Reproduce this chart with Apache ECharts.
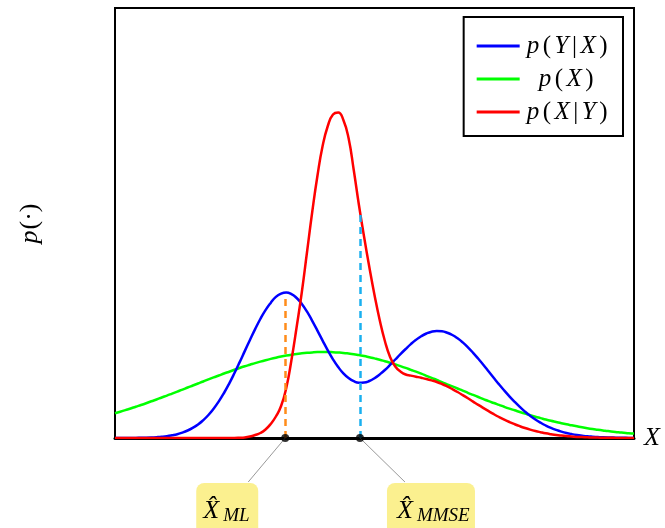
<!DOCTYPE html>
<html><head><meta charset="utf-8">
<script src="https://cdn.jsdelivr.net/npm/echarts@6/dist/echarts.min.js"></script>
<style>html,body{margin:0;padding:0;background:#fff}#c{width:665px;height:528px}</style>
</head><body><div id="c"></div>
<script>
const xValues = [0,1,2,3,4,5,6,7,8,9,10,11,12,13,14,15,16,17,18,19,20,21,22,23,24,25,26,27,28,29,30,31,32,33,34,35,36,37,38,39,40,41,42,43,44,45,46,47,48,49,50,51,52,53,54,55,56,57,58,59,60,61,62,63,64,65,66,67,68,69,70,71,72,73,74,75,76,77,78,79,80,81,82,83,84,85,86,87,88,89,90,91,92,93,94,95,96,97,98,99,100];
const pYgivenX = [0.0,0.0,0.1,0.1,0.1,0.2,0.3,0.5,0.8,1.2,1.8,2.7,3.8,5.4,7.5,10.2,13.5,17.8,23.0,29.3,36.6,45.0,54.4,64.7,75.6,86.9,98.0,108.9,119.0,127.9,135.1,141.1,144.4,145.5,143.9,140.0,134.1,126.3,117.2,107.4,97.4,87.7,78.7,71.0,64.6,59.9,56.8,55.3,55.5,57.0,59.8,63.6,68.0,73.1,78.5,83.9,89.0,93.9,98.2,101.8,104.5,106.3,107.0,106.7,105.3,103.0,99.7,95.6,90.7,85.2,79.2,73.0,66.5,60.0,53.6,47.5,41.7,36.2,31.1,26.4,22.2,18.5,15.3,12.5,10.1,8.1,6.4,5.0,3.9,3.0,2.3,1.7,1.3,1.0,0.7,0.5,0.4,0.3,0.2,0.1,0.1];
const pX = [24.7,26.3,27.9,29.5,31.3,33.0,34.8,36.7,38.5,40.5,42.4,44.4,46.4,48.4,50.5,52.5,54.5,56.5,58.6,60.6,62.5,64.5,66.3,68.2,70.0,71.7,73.3,74.9,76.4,77.8,79.1,80.3,81.4,82.4,83.3,84.1,84.7,85.2,85.6,85.9,86.0,86.0,85.8,85.5,85.1,84.5,83.8,82.9,82.0,80.8,79.6,78.3,76.8,75.3,73.6,71.9,70.1,68.2,66.3,64.3,62.2,60.1,58.0,55.8,53.7,51.6,49.5,47.4,45.2,43.1,41.0,38.9,36.8,35.0,33.1,31.2,29.4,27.7,26.0,24.4,22.8,21.3,19.9,18.5,17.2,16.0,14.8,13.7,12.7,11.7,10.7,9.8,9.0,8.3,7.6,6.9,6.3,5.7,5.2,4.7,4.4];
const pXgivenY = [0,0,0,0,0,0,0,0,0,0,0,0,0,0,0,0,0,0,0,0,0,0,0.05,0.1,0.3,0.6,1.5,3,5,8.5,14,21.5,32,50,78,111,146,186,226,262,292,312,323.5,325.5,318,300,268,233,201,171,143,118,97,81,71.5,66.5,63.5,62.4,61.3,60.2,59.0,57.6,56.0,54.0,51.6,48.9,46.0,42.9,39.7,36.4,33.1,29.9,26.8,23.8,21.0,18.4,16.0,13.8,11.8,10.0,8.4,7.0,5.8,4.7,3.8,3.0,2.4,1.9,1.5,1.1,0.9,0.7,0.5,0.4,0.3,0.2,0.15,0.1,0.05,0,0];
const seriesNames = ['p(Y|X)','p(X)','p(X|Y)'];
const estimateNames = ['ML','MMSE'];
const estimateX = [32.8, 47.2];
const estimateTop = [144, 226];

const FONT = 'Liberation Serif';
const richBase = {
  i:{fontFamily:FONT,fontStyle:'italic',fontSize:25,color:'#000',padding:[0,2,0,2]},
  u:{fontFamily:FONT,fontSize:25,color:'#000',padding:[0,1.5,0,1.5]},
  ic:{fontFamily:FONT,fontStyle:'italic',fontSize:25,color:'#000',padding:[0,2,0,14]}
};
const axisRich = {
  i:{fontFamily:FONT,fontStyle:'italic',fontSize:26,color:'#000'},
  u:{fontFamily:FONT,fontSize:26,color:'#000',padding:[0,1,0,1]}
};
const legendRich = {
  'p(Y|X)':'{i|p}{u|(}{i|Y}{u||}{i|X}{u|)}',
  'p(X)':'{ic|p}{u|(}{i|X}{u|)}',
  'p(X|Y)':'{i|p}{u|(}{i|X}{u||}{i|Y}{u|)}'
};
function pairs(ys){return xValues.map((x,i)=>[x,ys[i]]);}

const chart = echarts.init(document.getElementById('c'),null,{renderer:'canvas'});
const option = {
  animation:false,
  backgroundColor:'#fff',
  grid:{left:115,top:8,right:31,bottom:90,show:true,borderColor:'#000',borderWidth:2,backgroundColor:'transparent'},
  xAxis:{type:'value',min:0,max:100,
    axisLine:{show:true,lineStyle:{color:'#000',width:3}},axisTick:{show:false},axisLabel:{show:false},splitLine:{show:false},
    name:'{i|X}',nameLocation:'end',nameGap:10,nameTextStyle:{rich:axisRich}},
  yAxis:{type:'value',min:0,max:430,
    axisLine:{show:false},axisTick:{show:false},axisLabel:{show:false},splitLine:{show:false},
    name:'{i|p}{u|(·)}',nameLocation:'middle',nameGap:72,nameRotate:90,nameTextStyle:{rich:axisRich}},
  legend:{data:seriesNames,orient:'vertical',right:42,top:17,
    backgroundColor:'#fff',borderColor:'#000',borderWidth:2,padding:[16,14,11,13],
    icon:'rect',itemWidth:43,itemHeight:3,itemGap:7,
    formatter:n=>legendRich[n],
    textStyle:{rich:richBase,lineHeight:26}},
  series:[
    {name:seriesNames[0],type:'line',data:pairs(pYgivenX),smooth:true,symbol:'none',lineStyle:{color:'#0000ff',width:2.5},itemStyle:{color:'#0000ff'},z:3,
      markLine:{silent:true,symbol:'none',label:{show:false},lineStyle:{color:'#ff8c1a',width:2.5,type:[7,5]},
        data:[[{coord:[estimateX[0],0]},{coord:[estimateX[0],estimateTop[0]]}]]}},
    {name:seriesNames[1],type:'line',data:pairs(pX),smooth:true,symbol:'none',lineStyle:{color:'#00ff00',width:2.5},itemStyle:{color:'#00ff00'},z:2},
    {name:seriesNames[2],type:'line',data:pairs(pXgivenY),smooth:true,symbol:'none',lineStyle:{color:'#ff0000',width:2.5},itemStyle:{color:'#ff0000'},z:4,
      markLine:{silent:true,symbol:'none',label:{show:false},lineStyle:{color:'#1ab0ef',width:2.5,type:[7,5]},
        data:[[{coord:[estimateX[1],0]},{coord:[estimateX[1],estimateTop[1]]}]]}},
    {name:'est',type:'scatter',data:estimateX.map(x=>[x,0]),symbolSize:8,itemStyle:{color:'#000'},z:10,clip:false}
  ]
};
chart.setOption(option);

const boxes = [
  {dx:-89,w:62,lx:-37,tx:7,sx:20},
  {dx:27,w:88,lx:45,tx:10,sx:20}
];
const graphics = [];
estimateX.forEach((x,i)=>{
  const p = chart.convertToPixel({gridIndex:0},[x,0]);
  const b = boxes[i];
  const left = p[0]+b.dx, top = p[1]+45;
  graphics.push({type:'line',shape:{x1:p[0],y1:p[1],x2:p[0]+b.lx,y2:p[1]+44},style:{stroke:'#999',lineWidth:1},z:5});
  graphics.push({type:'rect',shape:{x:left,y:top,width:b.w,height:60,r:8},style:{fill:'#fbf08f'},z:5});
  graphics.push({type:'text',x:left+b.tx,y:511,style:{text:'X\u0302',font:'italic 26px "Liberation Serif"',fill:'#000',verticalAlign:'middle'},z:6});
  graphics.push({type:'text',x:left+b.tx+b.sx,y:516,style:{text:estimateNames[i],font:'italic 19px "Liberation Serif"',fill:'#000',verticalAlign:'middle'},z:6});
});
chart.setOption({graphic:graphics});
</script></body></html>
